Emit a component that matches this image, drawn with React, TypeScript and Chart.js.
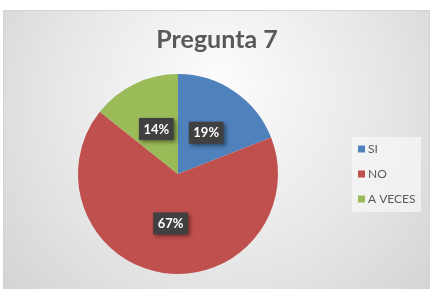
import React, { useEffect, useRef } from "react";
import { Chart, registerables } from "chart.js";

Chart.register(...registerables);

const categories = ["SI", "NO", "A VECES"];
const values = [4, 14, 3];
const percentLabels = ["19%", "67%", "14%"];
const colors = ["#4F81BD", "#C0504D", "#9BBB59"];
const titleText = "Pregunta 7";

const FONT = "Lato, 'Open Sans', sans-serif";

const bgPlugin = {
  id: "bgPlugin",
  beforeDraw(chart: any) {
    const ctx = chart.ctx;
    const W = chart.width;
    const H = chart.height;
    ctx.save();
    ctx.fillStyle = "#ffffff";
    ctx.fillRect(0, 0, W, H);
    const x0 = 3, y0 = 10, x1 = 430, y1 = H + 2;
    const g = ctx.createRadialGradient(220, 80, 10, 220, 120, 300);
    g.addColorStop(0, "#fbfbfb");
    g.addColorStop(0.5, "#e8e8e8");
    g.addColorStop(1, "#d0d0d0");
    ctx.fillStyle = g;
    ctx.fillRect(x0, y0, x1 - x0, y1 - y0);
    ctx.strokeStyle = "#d4d4d4";
    ctx.lineWidth = 1;
    ctx.strokeRect(x0 + 0.5, y0 + 0.5, x1 - x0 - 1, y1 - y0);
    // title
    ctx.fillStyle = "#595959";
    ctx.font = `bold 25px ${FONT}`;
    ctx.textAlign = "center";
    ctx.textBaseline = "middle";
    ctx.fillText(titleText, 217, 40);
    // legend
    ctx.fillStyle = "rgba(248,248,248,0.7)";
    ctx.fillRect(352, 137, 69, 75);
    ctx.font = `12px ${FONT}`;
    ctx.textAlign = "left";
    categories.forEach((c, i) => {
      const y = 149 + i * 25;
      ctx.fillStyle = colors[i];
      ctx.fillRect(358, y - 3.5, 7, 7);
      ctx.fillStyle = "#595959";
      ctx.fillText(c, 368, y + 0.5);
    });
    ctx.restore();
  },
};

const labelPlugin = {
  id: "labelPlugin",
  afterDatasetsDraw(chart: any) {
    const ctx = chart.ctx;
    const meta = chart.getDatasetMeta(0);
    ctx.save();
    ctx.font = `bold 13px ${FONT}`;
    ctx.textAlign = "center";
    ctx.textBaseline = "middle";
    meta.data.forEach((arc: any, i: number) => {
      const p = arc.tooltipPosition();
      const text = percentLabels[i];
      const w = ctx.measureText(text).width + 9;
      const h = 22;
      ctx.save();
      ctx.shadowColor = "rgba(0,0,0,0.45)";
      ctx.shadowBlur = 4;
      ctx.shadowOffsetX = 2;
      ctx.shadowOffsetY = 2;
      ctx.fillStyle = "#404040";
      ctx.fillRect(p.x - w / 2, p.y - h / 2, w, h);
      ctx.restore();
      ctx.fillStyle = "#ffffff";
      ctx.fillText(text, p.x, p.y + 0.5);
    });
    ctx.restore();
  },
};

export default function App() {
  const ref = useRef<HTMLCanvasElement>(null);
  useEffect(() => {
    if (!ref.current) return;
    const chart = new Chart(ref.current, {
      type: "pie",
      data: {
        labels: categories,
        datasets: [
          {
            data: values,
            backgroundColor: colors,
            borderWidth: 0,
          },
        ],
      },
      options: {
        animation: false,
        responsive: false,
        layout: { padding: { left: 78, right: 154, top: 74, bottom: 15 } },
        plugins: {
          legend: { display: false },
          title: { display: false },
          tooltip: { enabled: false },
        },
      },
      plugins: [bgPlugin, labelPlugin],
    });
    return () => chart.destroy();
  }, []);
  return (
    <div style={{ position: "fixed", left: 0, top: 0, width: 432, height: 289 }}>
      <canvas ref={ref} width={432} height={289} style={{ width: 432, height: 289 }} />
    </div>
  );
}
